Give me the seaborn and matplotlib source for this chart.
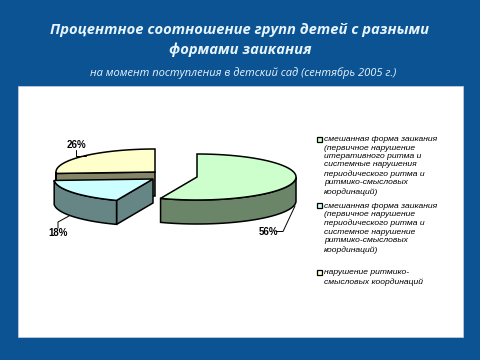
import numpy as np
import seaborn as sns
import matplotlib
matplotlib.use("Agg")
import matplotlib.pyplot as plt
from matplotlib.patches import Polygon, Rectangle

sns.set_theme(style="white")

values = [56, 18, 26]
labels = ["56%", "18%", "26%"]
top_colors = ["#CCFFCC", "#CCFFFF", "#FFFFCC"]
wall_colors = ["#6A8568", "#668585", "#858568"]
legend_texts = [
    "смешанная форма заикания\n(первичное нарушение\nитеративного ритма и\nсистемные нарушения\nпериодического ритма и\nритмико-смысловых\nкоординаций)",
    "смешанная форма заикания\n(первичное нарушение\nпериодического ритма и\nсистемное нарушение\nритмико-смысловых\nкоординаций)",
    "нарушение ритмико-\nсмысловых координаций",
]
title_lines = ["Процентное соотношение групп детей с разными", "формами заикания"]
subtitle = "на момент поступления в детский сад (сентябрь 2005 г.)"

BG = "#0C5394"
RX, RY, DEPTH = 99, 23, 24
centers = [(197, 177), (153, 179), (155, 172)]

fig = plt.figure(figsize=(4.8, 3.6), dpi=100, facecolor=BG)
ax = fig.add_axes([0, 0, 1, 1])
ax.set_xlim(0, 480)
ax.set_ylim(360, 0)
ax.axis("off")
ax.add_patch(Rectangle((18, 86), 445, 251, fc="white", ec="#C8D4E0", lw=0.5))


def pt(c, deg, dy=0):
    a = np.radians(deg)
    return np.column_stack([c[0] + RX * np.sin(a), c[1] - RY * np.cos(a) + dy])


edges = np.cumsum([0] + values) / sum(values) * 360
style = dict(ec="black", lw=1.1, joinstyle="miter")


def wedge(i):
    a0, a1 = edges[i], edges[i + 1]
    c = centers[i]
    deg = np.linspace(a0, a1, 120)
    centre = np.array([c])
    # radial face seen from the front (back slice and small slice)
    if i in (1, 2):
        e = pt(c, a0)
        face = np.vstack([centre, e, e + [0, DEPTH], centre + [0, DEPTH]])
        ax.add_patch(Polygon(face, fc=wall_colors[i], **style))
    # outer wall: only the part of the rim facing the viewer
    lo, hi = max(a0, 90), min(a1, 270)
    if hi > lo:
        d = np.linspace(lo, hi, 100)
        wall = np.vstack([pt(c, d), pt(c, d[::-1], DEPTH)])
        ax.add_patch(Polygon(wall, fc=wall_colors[i], **style))
    ax.add_patch(Polygon(np.vstack([centre, pt(c, deg)]), fc=top_colors[i], **style))


for i in [2, 1, 0]:
    wedge(i)

# data labels with leader lines
lab = dict(fontsize=7, fontweight="bold", color="black", family="Liberation Sans",
           ha="center", va="center")
ax.text(268, 232, labels[0], **lab)
ax.plot([295, 283, 276], [206, 231.5, 231.5], color="black", lw=0.7)
ax.text(58, 233.5, labels[1], **lab)
ax.plot([69, 58, 58], [216, 222, 228], color="black", lw=0.7)
ax.text(76, 144.5, labels[2], **lab)
ax.plot([76, 76, 86], [150, 156, 156], color="black", lw=0.7)

# legend
swatch_y = [139, 205.5, 272.5]
for t, col, y in zip(legend_texts, top_colors, swatch_y):
    ax.add_patch(Rectangle((316.5, y - 2.5), 5, 5, fc=col, ec="black", lw=0.9))
    ax.text(324, y - 3.0, t, fontsize=6.1, family="Liberation Sans", style="italic",
            va="top", ha="left", color="black", linespacing=1.3)

# titles
tkw = dict(color="#E6F4FC", ha="center", va="center", family="Open Sans",
           style="italic", fontweight="bold", fontsize=10.6)
ax.text(240, 30, title_lines[0], **tkw)
ax.text(240, 50, title_lines[1], **tkw)
ax.text(243, 73.5, subtitle, color="#E6F4FC", ha="center", va="center",
        family="Open Sans", style="italic", fontsize=8)

fig.savefig("out.png", dpi=100, facecolor=BG)
